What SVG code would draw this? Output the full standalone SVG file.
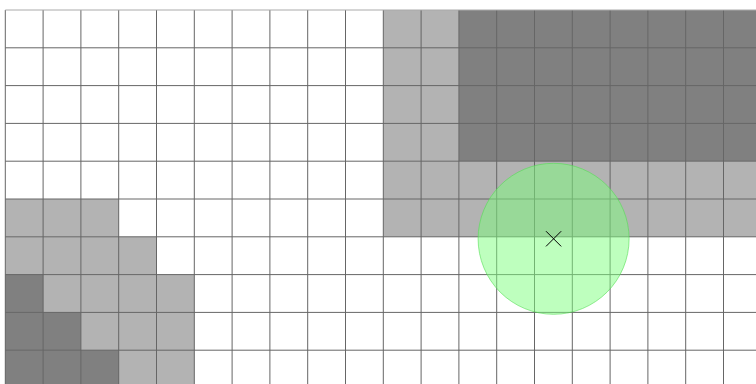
<svg xmlns="http://www.w3.org/2000/svg" width="756" height="384" viewBox="0 0 756 384">
<style>
.l{fill:#b3b3b3}
.d{fill:#808080}
.g line{stroke:#666;stroke-width:1}
</style>
<rect width="756" height="384" fill="#fff"/>
<g id="cells">
<rect class="d" x="458.9" y="10" width="297.1" height="151.2"/>
<rect class="l" x="383.3" y="10" width="75.6" height="151.2"/>
<rect class="l" x="383.3" y="161.2" width="372.7" height="75.6"/>
<rect class="l" x="5.3" y="199" width="113.4" height="37.8"/>
<rect class="l" x="5.3" y="236.8" width="151.2" height="37.8"/>
<rect class="l" x="5.3" y="274.6" width="189" height="109.4"/>
<rect class="d" x="5.3" y="274.6" width="37.8" height="37.8"/>
<rect class="d" x="5.3" y="312.4" width="75.6" height="37.8"/>
<rect class="d" x="5.3" y="350.2" width="113.4" height="33.8"/>
</g>
<g id="grid" class="g">
<line x1="5.3" y1="10" x2="5.3" y2="384"/>
<line x1="43.1" y1="10" x2="43.1" y2="384"/>
<line x1="80.9" y1="10" x2="80.9" y2="384"/>
<line x1="118.7" y1="10" x2="118.7" y2="384"/>
<line x1="156.5" y1="10" x2="156.5" y2="384"/>
<line x1="194.3" y1="10" x2="194.3" y2="384"/>
<line x1="232.1" y1="10" x2="232.1" y2="384"/>
<line x1="269.9" y1="10" x2="269.9" y2="384"/>
<line x1="307.7" y1="10" x2="307.7" y2="384"/>
<line x1="345.5" y1="10" x2="345.5" y2="384"/>
<line x1="383.3" y1="10" x2="383.3" y2="384"/>
<line x1="421.1" y1="10" x2="421.1" y2="384"/>
<line x1="458.9" y1="10" x2="458.9" y2="384"/>
<line x1="496.7" y1="10" x2="496.7" y2="384"/>
<line x1="534.5" y1="10" x2="534.5" y2="384"/>
<line x1="572.3" y1="10" x2="572.3" y2="384"/>
<line x1="610.1" y1="10" x2="610.1" y2="384"/>
<line x1="647.9" y1="10" x2="647.9" y2="384"/>
<line x1="685.7" y1="10" x2="685.7" y2="384"/>
<line x1="723.5" y1="10" x2="723.5" y2="384"/>
<line x1="5.3" y1="10" x2="756" y2="10" style="stroke:#aaa"/>
<line x1="5.3" y1="47.8" x2="756" y2="47.8"/>
<line x1="5.3" y1="85.6" x2="756" y2="85.6"/>
<line x1="5.3" y1="123.4" x2="756" y2="123.4"/>
<line x1="5.3" y1="161.2" x2="756" y2="161.2"/>
<line x1="5.3" y1="199" x2="756" y2="199"/>
<line x1="5.3" y1="236.8" x2="756" y2="236.8"/>
<line x1="5.3" y1="274.6" x2="756" y2="274.6"/>
<line x1="5.3" y1="312.4" x2="756" y2="312.4"/>
<line x1="5.3" y1="350.2" x2="756" y2="350.2"/>
</g>
<g id="robot">
<circle cx="553.6" cy="238.8" r="75.5" fill="#7dff7d" fill-opacity="0.5" stroke="#55dd55" stroke-opacity="0.6" stroke-width="1"/>
<path d="M546 231.2 L561.2 246.4 M561.2 231.2 L546 246.4" stroke="#000" stroke-width="1" fill="none"/>
</g>
</svg>
